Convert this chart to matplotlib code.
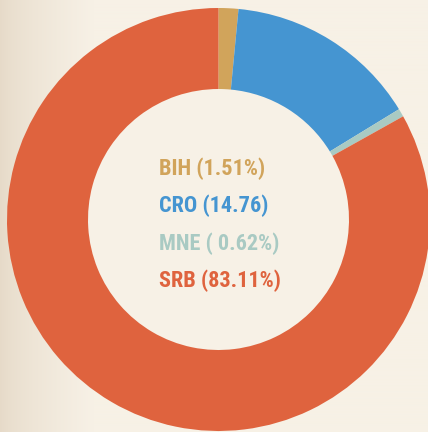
import matplotlib
matplotlib.use("Agg")
import matplotlib.pyplot as plt
import numpy as np
from matplotlib.colors import LinearSegmentedColormap

labels = ["BIH", "CRO", "MNE", "SRB"]
shares = [1.51, 14.76, 0.62, 83.11]
texts = ["BIH (1.51%)", "CRO (14.76)", "MNE ( 0.62%)", "SRB (83.11%)"]
colors = ["#d1a45b", "#4595d1", "#a9cac3", "#df633e"]

W, H = 428, 432
fig = plt.figure(figsize=(W / 100, H / 100), dpi=100)

# background with soft gradient on the left edge
bg = fig.add_axes([0, 0, 1, 1])
bg.set_axis_off()
grad = np.linspace(0, 1, W)
grad = np.clip(grad / 0.22, 0, 1) ** 0.7
cmap = LinearSegmentedColormap.from_list("bg", ["#e6dac8", "#f7f1e6"])
bg.imshow(np.tile(grad, (2, 1)), cmap=cmap, aspect="auto", extent=[0, 1, 0, 1])
bg.set_xlim(0, 1)
bg.set_ylim(0, 1)

ax = fig.add_axes([0, 0, 1, 1])
ax.set_axis_off()
ax.patch.set_alpha(0)

cx, cy, r = 218.5, H - 219.5, 211.5
ax.pie(shares, colors=colors, startangle=90, counterclock=False,
       center=(cx, cy), radius=r, frame=True,
       wedgeprops=dict(width=r * 0.383, linewidth=0))
# plain cream hole
ax.add_patch(plt.Circle((cx, cy), r * 0.617, color="#f7f1e6", zorder=0.5))
ax.set_xlim(0, W)
ax.set_ylim(0, H)
ax.set_aspect("equal")
ax.set_axis_off()

for i, (t, c) in enumerate(zip(texts, colors)):
    ax.text(159, H - (168.5 + i * 37.5), t, color=c, fontsize=16,
            fontweight="heavy",
            family=["Roboto Condensed", "Roboto", "DejaVu Sans"],
            ha="left", va="center")

fig.savefig("out.png", dpi=100)
